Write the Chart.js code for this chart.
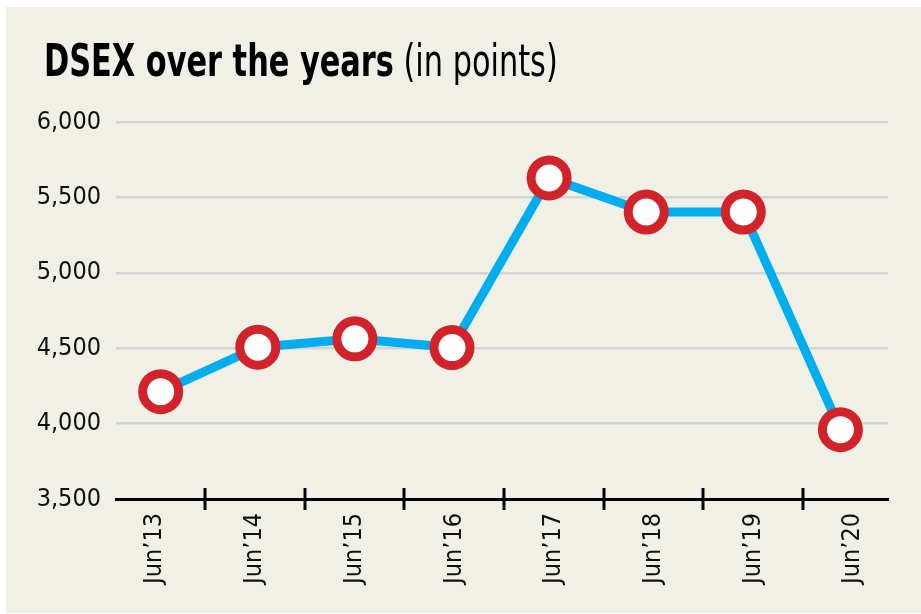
<!DOCTYPE html>
<html>
<head>
<meta charset="utf-8">
<script src="https://cdn.jsdelivr.net/npm/chart.js@4"></script>
<style>
  html, body { margin: 0; padding: 0; background: #fff; }
  #panel {
    position: absolute; left: 6px; top: 7px; width: 915px; height: 606px;
    background: #f1f0e6; overflow: hidden;
  }
  #title {
    position: absolute; left: 38px; top: 32px; margin: 0;
    font-family: "DejaVu Sans Condensed", "Liberation Sans Narrow", sans-serif;
    font-size: 45px; line-height: 44px; color: #000; white-space: nowrap;
    transform: scaleX(0.75); transform-origin: 0 0;
  }
  #chart { position: absolute; left: 0; top: 0; }
</style>
</head>
<body>
<div id="panel">
  <canvas id="chart" width="915" height="606"></canvas>
  <div id="title"><b>DSEX over the years</b> (in points)</div>
</div>
<script>
// --- DATA ---
const years = ['Jun’13', 'Jun’14', 'Jun’15', 'Jun’16', 'Jun’17', 'Jun’18', 'Jun’19', 'Jun’20'];
const dsex = [4212, 4507, 4562, 4504, 5629, 5403, 5403, 3960];
const yTicks = [3500, 4000, 4500, 5000, 5500, 6000];

const fontFamily = '"DejaVu Sans Condensed", "Liberation Sans Narrow", sans-serif';
const lineColor = '#00aeef';
const dotColor = '#d2232a';
const gridColor = '#d4d4d2';

// little tick marks crossing the x axis between the years
const axisTicks = {
  id: 'axisTicks',
  afterDraw(chart) {
    const sx = chart.scales.xl;
    const y = chart.chartArea.bottom;
    const ctx = chart.ctx;
    ctx.save();
    ctx.strokeStyle = '#000';
    ctx.lineWidth = 3;
    for (let i = 0; i < years.length - 1; i++) {
      const x = Math.round(sx.getPixelForValue(i + 0.5));
      ctx.beginPath();
      ctx.moveTo(x, y - 11);
      ctx.lineTo(x, y + 11);
      ctx.stroke();
    }
    ctx.restore();
  }
};

new Chart(document.getElementById('chart'), {
  type: 'line',
  data: {
    datasets: [{
      label: 'DSEX',
      data: dsex.map((v, i) => ({ x: i, y: v })),
      xAxisID: 'x',
      borderColor: lineColor,
      borderWidth: 9,
      tension: 0,
      fill: false,
      clip: false,
      pointRadius: 18,
      pointHoverRadius: 18,
      pointBorderWidth: 9,
      pointHoverBorderWidth: 9,
      pointBorderColor: dotColor,
      pointBackgroundColor: '#fff'
    }]
  },
  options: {
    responsive: false,
    animation: false,
    events: [],
    layout: { padding: { left: 0, right: 33, top: 115, bottom: 0 } },
    plugins: {
      legend: { display: false },
      tooltip: { enabled: false }
    },
    scales: {
      x: {
        type: 'linear',
        display: false,
        min: -0.46,
        max: 7.49
      },
      xl: {
        type: 'linear',
        position: 'bottom',
        min: -0.391,
        max: 7.352,
        afterBuildTicks: (scale) => { scale.ticks = years.map((_, i) => ({ value: i })); },
        afterFit: (scale) => { scale.height = 114; },
        grid: { display: false },
        border: { display: true, color: '#000', width: 3 },
        ticks: {
          autoSkip: false,
          minRotation: 90,
          maxRotation: 90,
          padding: 6,
          color: '#111',
          font: { family: fontFamily, size: 25 },
          callback: (v) => years[v]
        }
      },
      y: {
        min: 3500,
        max: 6000,
        afterBuildTicks: (scale) => { scale.ticks = yTicks.map(v => ({ value: v })); },
        afterFit: (scale) => { scale.width = 110; },
        border: { display: false },
        grid: {
          drawTicks: false,
          lineWidth: 2.5,
          color: (c) => (c.tick && c.tick.value === 3500) ? 'rgba(0,0,0,0)' : gridColor
        },
        ticks: {
          padding: 15,
          color: '#111',
          font: { family: fontFamily, size: 25 },
          callback: (v) => v.toLocaleString('en-US')
        }
      }
    }
  },
  plugins: [axisTicks]
});
</script>
</body>
</html>
